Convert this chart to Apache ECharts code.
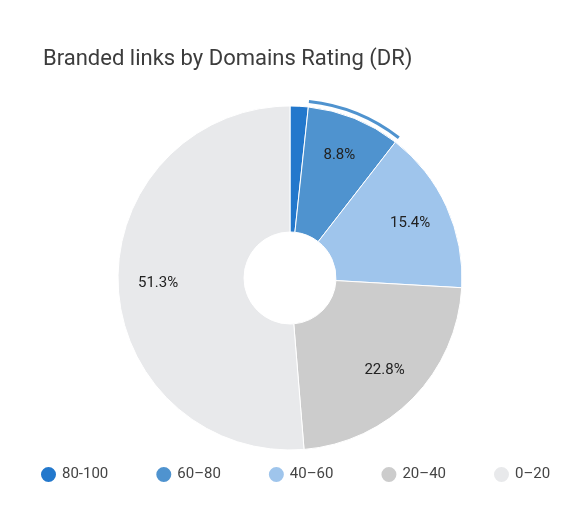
<!DOCTYPE html><html><head><meta charset="utf-8"><script src="https://cdn.jsdelivr.net/npm/echarts@6/dist/echarts.min.js"></script></head><body style="margin:0"><div id="c" style="width:582px;height:519px"></div><script>
const categories=['80-100','60–80','40–60','20–40','0–20'];
const values=[1.7,8.8,15.4,22.8,51.3];
const colors=['#2378cc','#4f93cf','#9fc5ec','#cccccc','#e8e9eb'];
const chart=echarts.init(document.getElementById('c'));
const data=categories.map((n,i)=>({name:n,value:values[i]}));
chart.setOption({
title:{text:'Branded links by Domains Rating (DR)',left:38,top:43,textStyle:{fontFamily:'Roboto',fontSize:22,fontWeight:'normal',color:'#3c3c3c'}},
color:colors,
legend:{bottom:30,left:34,itemGap:46,icon:'circle',itemWidth:17,itemHeight:17,textStyle:{fontFamily:'Roboto',fontSize:15,color:'#444'},data:categories},
series:[{type:'pie',center:[290,278],radius:[46,172],startAngle:90,silent:true,
label:{show:false},labelLine:{show:false},itemStyle:{borderColor:'#fff',borderWidth:1},data:data},
{type:'pie',center:[290,278],radius:[0,258],startAngle:90,silent:true,legendHoverLink:false,
itemStyle:{color:'transparent'},
label:{position:'inside',formatter:p=>p.value<5?'':p.value.toFixed(1)+'%',fontFamily:'Roboto',fontSize:15,color:'#222'},
labelLine:{show:false},data:data},
{type:'pie',center:[290,278],radius:[176,179],startAngle:90,silent:true,label:{show:false},labelLine:{show:false},legendHoverLink:false,
data:categories.map((n,i)=>({name:n,value:values[i],itemStyle:{color:i===1?'#4f93cf':'transparent'}}))}]
});
</script></body></html>
